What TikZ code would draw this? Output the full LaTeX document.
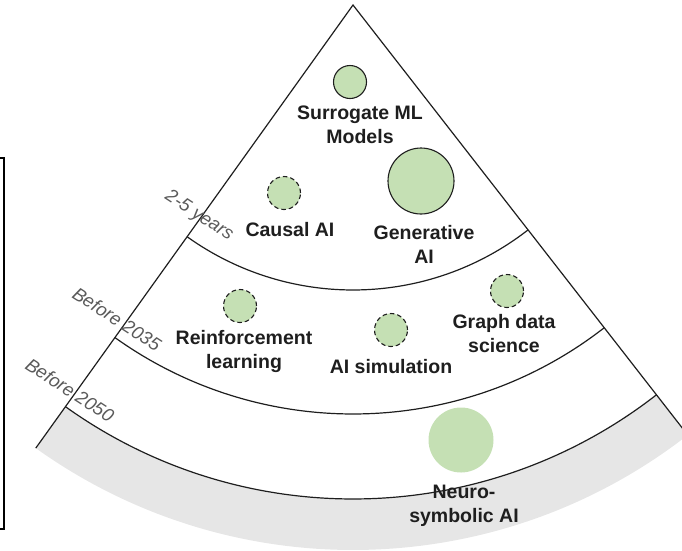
\documentclass[tikz,border=0pt]{standalone}
\usepackage{fontspec}
\setmainfont{Liberation Sans}
\usetikzlibrary{calc}
\definecolor{leaf}{HTML}{C5E0B4}
\definecolor{band}{HTML}{E6E6E6}
\definecolor{ink}{HTML}{1E1E1E}
\definecolor{yeargray}{HTML}{5A5A5A}
\begin{document}
\begin{tikzpicture}[x=1pt,y=-1pt,
  edge/.style={draw=ink,line width=1.2pt},
  bubble/.style={circle,fill=leaf,draw=ink,line width=1.1pt,inner sep=0pt},
  maybe/.style={bubble,dash pattern=on 4.5pt off 3pt},
  flat/.style={circle,fill=leaf,inner sep=0pt},
  lbl/.style={align=center,text=ink,inner sep=0pt,font=\bfseries\fontsize{19.5}{24}\selectfont},
  yr/.style={text=yeargray,inner sep=0pt,rotate=-33,font=\itshape\fontsize{18.5}{22}\selectfont}]
\useasboundingbox (0,0) rectangle (682,550);
\clip (0,0) rectangle (682,550);

% sector geometry
\coordinate (apex) at (353,5);
\def\aR{52.1}
\def\aL{125.6}
\coordinate (eL) at ($(apex)+(\aL:545)$);
\coordinate (eR) at ($(apex)+(\aR:545)$);
\coordinate (c1L) at ($(apex)+(\aL:285)$);
\coordinate (c1R) at ($(apex)+(\aR:285)$);
\coordinate (c2L) at ($(apex)+(\aL:409)$);
\coordinate (c2R) at ($(apex)+(\aR:409)$);
\coordinate (c3L) at ($(apex)+(\aL:494)$);
\coordinate (c3R) at ($(apex)+(\aR:494)$);

% outer shaded ring
\fill[band] (c3R) arc[start angle=\aR,end angle=\aL,radius=494]
  -- (eL) arc[start angle=\aL,end angle=\aR,radius=545] -- cycle;

% side edges and horizon arcs
\draw[edge] (eL) -- (apex) -- (eR);
\draw[edge] (c1R) arc[start angle=\aR,end angle=\aL,radius=285];
\draw[edge] (c2R) arc[start angle=\aR,end angle=\aL,radius=409];
\draw[edge] (c3R) arc[start angle=\aR,end angle=\aL,radius=494];

% horizon labels
\node[yr] (y1) at (199,216) {2-5 years};
\node[yr] (y2) at (117,319) {Before 2035};
\node[yr] (y3) at (70,390) {Before 2050};

% technologies
\node[bubble,minimum size=33] (surr) at (350,82) {};
\node[lbl] (surrT) at (360,125) {Surrogate ML\\Models};
\node[bubble,minimum size=66] (gen) at (421,181) {};
\node[lbl] (genT) at (424,244) {Generative\\AI};
\node[maybe,minimum size=33] (causal) at (284,193) {};
\node[lbl] (causalT) at (290,230) {Causal AI};
\node[maybe,minimum size=33] (rl) at (240,306) {};
\node[lbl] (rlT) at (244,351) {Reinforcement\\learning};
\node[maybe,minimum size=33] (sim) at (391,330) {};
\node[lbl] (simT) at (391,367) {AI simulation};
\node[maybe,minimum size=33] (graph) at (507,291) {};
\node[lbl] (graphT) at (504,334) {Graph data\\science};
\node[flat,minimum size=65] (neuro) at (461,440) {};
\node[lbl] (neuroT) at (464,506) {Neuro-\\symbolic AI};

% frame at the left margin
\draw[black,line width=1.8pt] (-20,158) rectangle (4,529);
\end{tikzpicture}
\end{document}
